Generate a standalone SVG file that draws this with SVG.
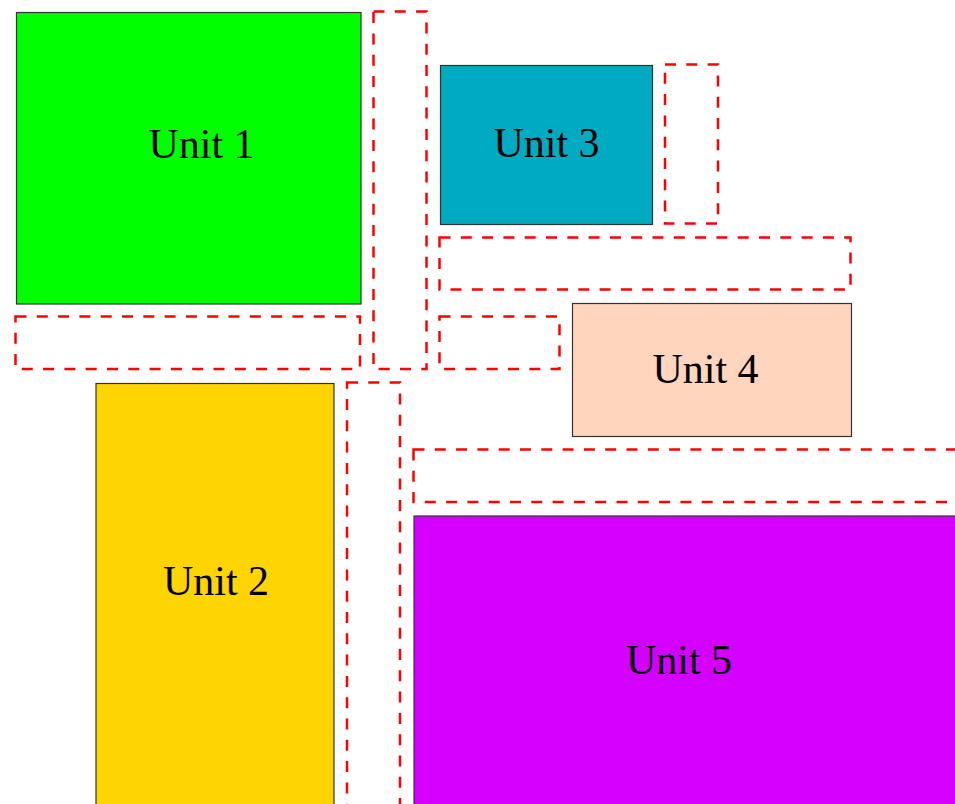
<svg xmlns="http://www.w3.org/2000/svg" width="955" height="804" viewBox="0 0 955 804">
  <style>
    .unit { stroke: #333333; stroke-width: 1.2; }
    .zone { fill: none; stroke: #ff0000; stroke-width: 2.5; stroke-dasharray: 11 10.3; }
    .label { font-family: "Liberation Serif", "Times New Roman", serif; font-size: 42px; fill: #000000; text-anchor: middle; }
  </style>
  <rect width="955" height="804" fill="#ffffff"/>

  <!-- clearance zones -->
  <g id="zones">
    <rect class="zone" x="15.5" y="316.5" width="344.5" height="52.5"/>
    <rect class="zone" x="373.5" y="11.5" width="53" height="357.5"/>
    <rect class="zone" x="665" y="64.5" width="53" height="159"/>
    <rect class="zone" x="439.5" y="237.5" width="411" height="52"/>
    <rect class="zone" x="439.5" y="316.5" width="120" height="52.5"/>
    <rect class="zone" x="347" y="382.5" width="53" height="440"/>
    <rect class="zone" x="413.5" y="449.5" width="560" height="52.5"/>
  </g>

  <g id="unit1">
    <rect class="unit" x="16.5" y="12.5" width="344.5" height="291.5" fill="#00ff00"/>
    <text class="label" x="201.5" y="157.5">Unit 1</text>
  </g>
  <g id="unit2">
    <rect class="unit" x="96" y="383.5" width="238" height="440" fill="#ffd400"/>
    <text class="label" x="216" y="594.5">Unit 2</text>
  </g>
  <g id="unit3">
    <rect class="unit" x="440.5" y="65.5" width="212" height="159" fill="#00aac1"/>
    <text class="label" x="546.5" y="157">Unit 3</text>
  </g>
  <g id="unit4">
    <rect class="unit" x="572.5" y="303.5" width="279" height="133" fill="#ffd5bd"/>
    <text class="label" x="705.5" y="382.5">Unit 4</text>
  </g>
  <g id="unit5">
    <rect class="unit" x="414" y="516" width="560" height="310" fill="#d400ff"/>
    <text class="label" x="679" y="673.5">Unit 5</text>
  </g>
</svg>
